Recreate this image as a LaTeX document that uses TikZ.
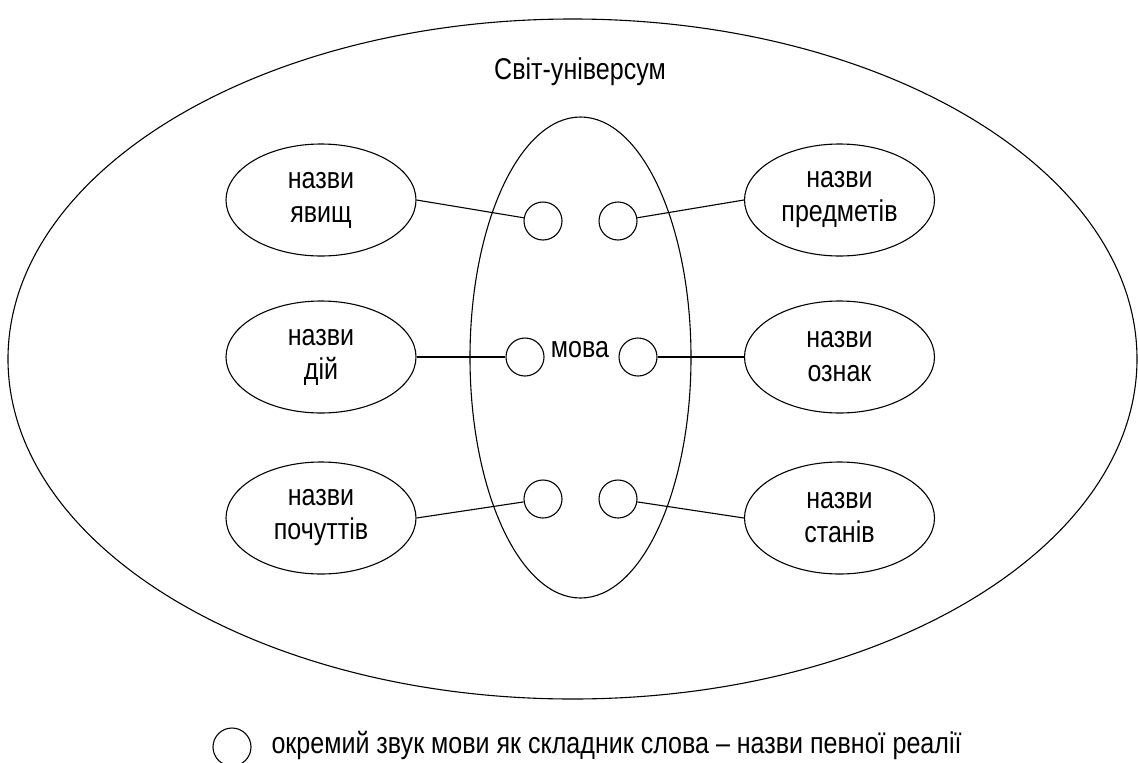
\documentclass[tikz,border=0pt]{standalone}
\usepackage{fontspec}
\setmainfont{Liberation Sans}[FakeStretch=0.835]
\usetikzlibrary{shapes.geometric}
\begin{document}
\begin{tikzpicture}[x=1pt,y=-1pt,line width=1.1pt,
  every node/.style={font=\fontsize{30}{34}\selectfont},
  oval/.style={draw,ellipse,inner sep=0pt,minimum width=190pt,minimum height=112pt,align=center},
  sound/.style={draw,circle,inner sep=0pt,minimum size=38pt},
  plain/.style={inner sep=0pt}]
\useasboundingbox (0,0) rectangle (1138,763);
\node[draw,ellipse,inner sep=0pt,minimum width=1129pt,minimum height=680pt] (world) at (572.5,359) {};
\node[draw,ellipse,inner sep=0pt,minimum width=221pt,minimum height=481pt] (lang) at (580.5,357.5) {};
\node[plain,anchor=base] (title) at (580,79) {Світ-універсум};
\node[plain,anchor=base] (mova) at (580,357) {мова};
% left ovals
\node[oval] (L1) at (321,200) {назви\\явищ};
\node[oval] (L2) at (321,357) {назви\\дій};
\node[oval] (L3) at (321,518) {назви\\почуттів};
% right ovals
\node[oval] (R1) at (839.5,200) {назви\\предметів};
\node[oval] (R2) at (839.5,357) {назви\\ознак};
\node[oval] (R3) at (839.5,518) {назви\\станів};
% sound circles
\node[sound] (c1) at (543,221) {};
\node[sound] (c2) at (618,221) {};
\node[sound] (c3) at (525,357) {};
\node[sound] (c4) at (638,357) {};
\node[sound] (c5) at (543,499) {};
\node[sound] (c6) at (618,499) {};
% connectors
\draw (L1.east) -- (c1);
\draw (R1.west) -- (c2);
\draw (L2.east) -- (c3.west);
\draw (R2.west) -- (c4.east);
\draw (L3.east) -- (c5);
\draw (R3.west) -- (c6);
% legend
\node[sound] (leg) at (232,747) {};
\node[plain,anchor=base west] (legtext) at (271,753) {окремий звук мови як складник слова – назви певної реалії};
\end{tikzpicture}
\end{document}
